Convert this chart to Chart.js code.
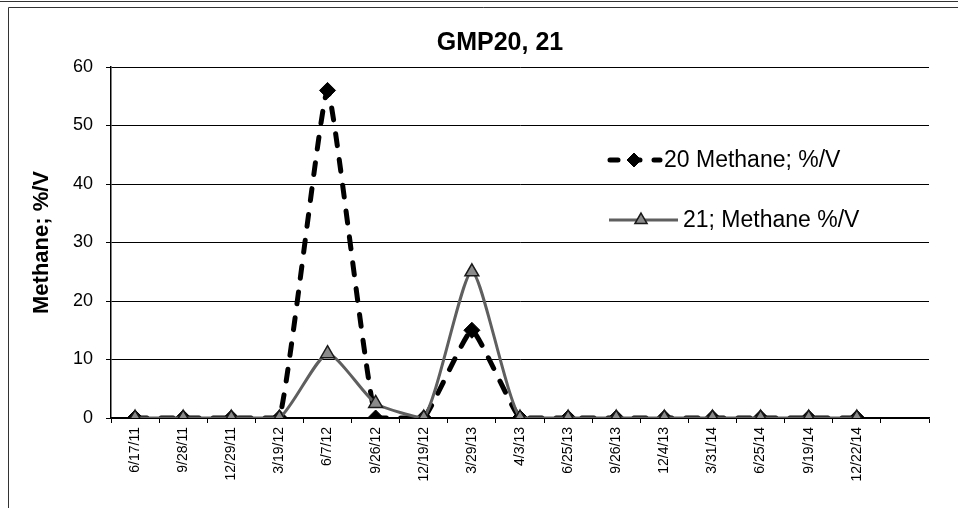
<!DOCTYPE html>
<html>
<head>
<meta charset="utf-8">
<script src="https://cdn.jsdelivr.net/npm/chart.js@4/dist/chart.umd.min.js"></script>
<style>
  html, body { margin: 0; padding: 0; background: #fff; }
  #wrap { width: 958px; height: 508px; position: relative; }
</style>
</head>
<body>
<div id="wrap"><canvas id="c" width="958" height="508"></canvas></div>
<script>
// ---- data ----
const chartTitle = 'GMP20, 21';
const yTitle = 'Methane; %/V';
const categories = ['6/17/11','9/28/11','12/29/11','3/19/12','6/7/12','9/26/12','12/19/12','3/29/13','4/3/13','6/25/13','9/26/13','12/4/13','3/31/14','6/25/14','9/19/14','12/22/14',''];
const series20Label = '20 Methane; %/V';
const series20 = [0,0,0,0,56,0,0,15,0,0,0,0,0,0,0,0,null];
const series21Label = '21; Methane %/V';
const series21 = [0,0,0,0,11,2.5,0,25,0,0,0,0,0,0,0,0,null];
const yMin = 0, yMax = 60, yStep = 10;

const FONT = '"Liberation Sans", Arial, sans-serif';

const frame = {
  id: 'frame',
  beforeDraw(chart) {
    const ctx = chart.ctx;
    ctx.save();
    ctx.fillStyle = '#fff';
    ctx.fillRect(0, 0, chart.width, chart.height);
    ctx.strokeStyle = '#333';
    ctx.lineWidth = 1;
    ctx.beginPath();
    ctx.moveTo(0, 1.5); ctx.lineTo(chart.width, 1.5);
    ctx.moveTo(8.5, chart.height); ctx.lineTo(8.5, 7.5); ctx.lineTo(chart.width, 7.5);
    ctx.stroke();
    ctx.restore();
  },
  afterDraw(chart) {
    const ctx = chart.ctx;
    ctx.save();
    // title
    ctx.fillStyle = '#000';
    ctx.font = 'bold 25px ' + FONT;
    ctx.textAlign = 'center';
    ctx.textBaseline = 'middle';
    ctx.fillText(chartTitle, 500, 43);
    // legend
    const items = [
      { ds: chart.data.datasets[0], x0: 610, x1: 660, mx: 634, y: 160, tx: 664 },
      { ds: chart.data.datasets[1], x0: 609, x1: 678, mx: 641, y: 220, tx: 683 }
    ];
    items.forEach(it => {
      const ds = it.ds;
      ctx.save();
      ctx.strokeStyle = ds.borderColor;
      ctx.lineWidth = ds.borderWidth;
      ctx.lineCap = ds.borderCapStyle || 'butt';
      ctx.setLineDash(ds.borderDash ? [8, 14] : []);
      ctx.beginPath();
      ctx.moveTo(it.x0, it.y); ctx.lineTo(it.x1, it.y);
      ctx.stroke();
      ctx.restore();
      ctx.save();
      ctx.fillStyle = ds.pointBackgroundColor; ctx.strokeStyle = ds.pointBorderColor; ctx.lineWidth = ds.pointBorderWidth;
      Chart.helpers.drawPoint(ctx, { pointStyle: ds.pointStyle, radius: ds.pointRadius - 1, borderWidth: ds.pointBorderWidth, rotation: 0 }, it.mx, it.y);
      ctx.restore();
      ctx.fillStyle = '#000';
      ctx.font = '23px ' + FONT;
      ctx.textAlign = 'left';
      ctx.textBaseline = 'middle';
      ctx.fillText(ds.label, it.tx, it.y + 1);
    });
    ctx.restore();
  }
};

new Chart(document.getElementById('c'), {
  type: 'line',
  data: {
    labels: categories,
    datasets: [
      {
        label: series20Label,
        data: series20,
        borderColor: '#000',
        borderWidth: 5,
        borderDash: [12, 14],
        borderCapStyle: 'round',
        tension: 0.12,
        pointStyle: 'rectRot',
        pointRadius: 8,
        pointBackgroundColor: '#000',
        pointBorderColor: '#000',
        pointBorderWidth: 1,
        order: 1
      },
      {
        label: series21Label,
        data: series21,
        borderColor: '#5f5f5f',
        borderWidth: 3,
        tension: 0.2,
        pointStyle: 'triangle',
        pointRadius: 8,
        pointBackgroundColor: '#8a8a8a',
        pointBorderColor: '#1a1a1a',
        pointBorderWidth: 1.5,
        order: 0
      }
    ]
  },
  options: {
    responsive: false,
    animation: false,
    devicePixelRatio: 1,
    layout: { padding: { left: 0, top: 67, right: 29, bottom: 0 } },
    plugins: { legend: { display: false }, title: { display: false }, tooltip: { enabled: false } },
    scales: {
      x: {
        offset: true,
        grid: { offset: true, drawOnChartArea: false, color: '#000', tickLength: 5, tickWidth: 1 },
        border: { display: true, color: '#000', width: 1.5 },
        ticks: { color: '#000', font: { family: FONT, size: 14 }, minRotation: 90, maxRotation: 90, autoSkip: false, padding: 4 },
        afterFit(scale) { scale.height = 90; }
      },
      y: {
        min: yMin, max: yMax,
        grid: { color: '#000', lineWidth: 1, tickLength: 5 },
        border: { display: true, color: '#000', width: 1.5 },
        ticks: { stepSize: yStep, color: '#000', font: { family: FONT, size: 18 }, padding: 13 },
        title: { display: true, text: yTitle, color: '#000', font: { family: FONT, size: 22, weight: 'bold' }, padding: { top: 29, bottom: 0 } },
        afterFit(scale) { scale.width = 111; }
      }
    }
  },
  plugins: [frame]
});
</script>
</body>
</html>
